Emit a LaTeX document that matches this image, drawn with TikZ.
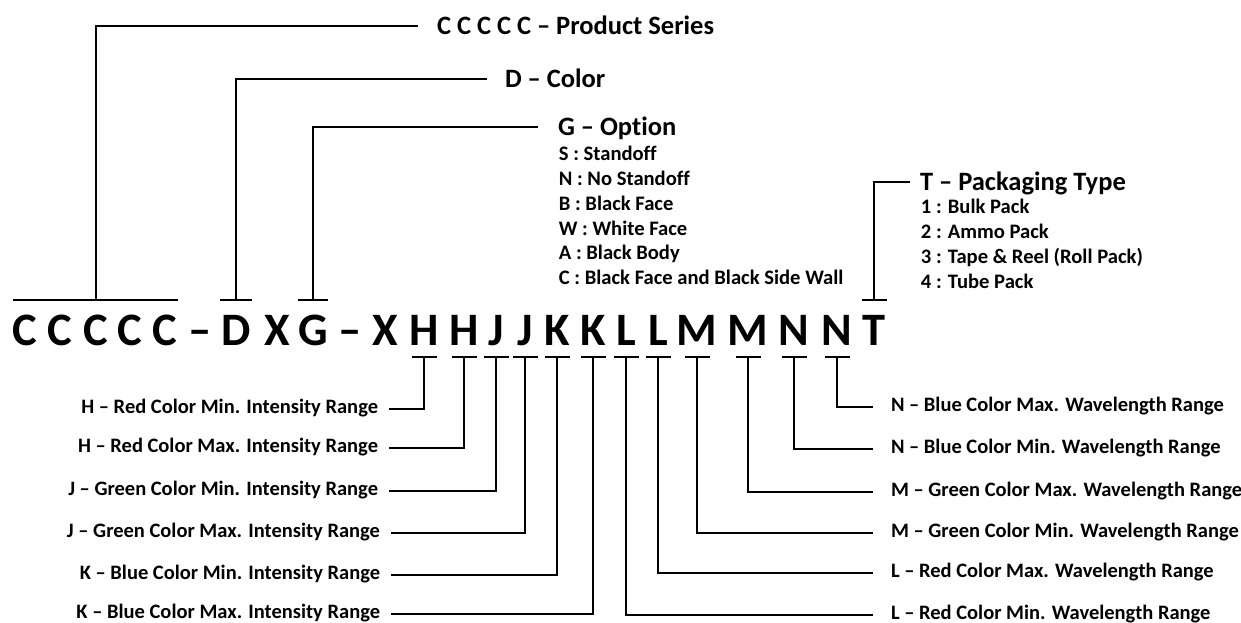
\documentclass[tikz,border=0pt]{standalone}
\usepackage{fontspec}
\setmainfont{Carlito}[Ligatures=NoCommon]
\usetikzlibrary{positioning}
\tikzset{
  code/.style={font=\fontsize{46.5}{46.5}\selectfont\bfseries, inner sep=0pt, text height=30pt, text depth=0pt},
  head/.style={font=\fontsize{26.5}{26.5}\selectfont\bfseries, inner sep=0pt, anchor=west, text height=21pt, text depth=4pt},
  item/.style={font=\fontsize{20.6}{20.6}\selectfont\bfseries, inner sep=0pt, anchor=west, text height=17.5pt, text depth=4pt},
  rangelbl/.style={font=\fontsize{20.5}{20.5}\selectfont\bfseries, inner sep=0pt, text height=14pt, text depth=4.8pt},
}
\begin{document}
\begin{tikzpicture}[x=1pt, y=-1pt, line width=1.8pt]
  \useasboundingbox (0,0) rectangle (1241,623);
  % part number, one node per character
  \foreach \ch/\px/\nm in {C/25/c1, C/60/c2, C/96/c3, C/130/c4, C/165/c5, –/200/s1, D/236/d, X/277/x1, G/313/g, –/350/s2, X/385/x2,
      H/424/h1, H/464/h2, J/496/j1, J/525/j2, K/557/k1, K/593/k2, L/626/l1, L/658/l2, M/697/m1, M/748/m2, N/794/n1, N/837/n2, T/874/t}
    \node[code] (\nm) at (\px,330) {\ch};

  % upper labels
  \node[head, outer xsep=19pt] (series) at (418,26) {C C C C C – Product Series};
  \node[head, outer xsep=18pt] (color) at (487,79) {D – Color};
  \node[head, outer xsep=20pt] (option) at (538,127) {G – Option};
  \node[head, outer xsep=10pt] (pack) at (910,182) {T – Packaging Type};
  \foreach \txt [count=\i] in {S : Standoff, N : No Standoff, B : Black Face, W : White Face, A : Black Body, C : Black Face and Black Side Wall}
    \node[item] (opt\i) at (558,{129.3+24.75*\i}) {\txt};
  \foreach \txt [count=\i] in {1 : Bulk Pack, 2 : Ammo Pack, 3 : Tape \& Reel (Roll Pack), 4 : Tube Pack}
    \node[item] (pk\i) at (920,{182+25*\i}) {\txt};

  % lower labels
  \node[rangelbl, anchor=east, outer xsep=11pt] (hmin) at (389,409) {H – Red Color Min. Intensity Range};
  \node[rangelbl, anchor=east, outer xsep=11pt] (hmax) at (389,448) {H – Red Color Max. Intensity Range};
  \node[rangelbl, anchor=east, outer xsep=11pt] (jmin) at (389,491) {J – Green Color Min. Intensity Range};
  \node[rangelbl, anchor=east, outer xsep=11pt] (jmax) at (391,533) {J – Green Color Max. Intensity Range};
  \node[rangelbl, anchor=east, outer xsep=11pt] (kmin) at (391,575) {K – Blue Color Min. Intensity Range};
  \node[rangelbl, anchor=east, outer xsep=11pt] (kmax) at (391,614) {K – Blue Color Max. Intensity Range};
  \node[rangelbl, anchor=west, outer xsep=18pt] (nmax) at (873,407) {N – Blue Color Max. Wavelength Range};
  \node[rangelbl, anchor=west, outer xsep=18pt] (nmin) at (873,449) {N – Blue Color Min. Wavelength Range};
  \node[rangelbl, anchor=west, outer xsep=18pt] (mmax) at (873,492) {M – Green Color Max. Wavelength Range};
  \node[rangelbl, anchor=west, outer xsep=18pt] (mmin) at (873,533) {M – Green Color Min. Wavelength Range};
  \node[rangelbl, anchor=west, outer xsep=18pt] (lmax) at (873,573) {L – Red Color Max. Wavelength Range};
  \node[rangelbl, anchor=west, outer xsep=18pt] (lmin) at (873,615) {L – Red Color Min. Wavelength Range};

  % connectors above
  \draw ([xshift=-12pt,yshift=14pt]c1.north) -- ([xshift=13pt,yshift=14pt]c5.north);
  \draw ([yshift=14pt]c3.north) |- (series);
  \foreach \ltr/\lbl/\w in {d/color/16, g/option/15, t/pack/12.5} {
    \draw ([xshift=-\w pt,yshift=14pt]\ltr.north) -- ([xshift=\w pt,yshift=14pt]\ltr.north);
    \draw ([yshift=14pt]\ltr.north) |- (\lbl);
  }
  % connectors below
  \foreach \ltr/\lbl in {h1/hmin, h2/hmax, j1/jmin, j2/jmax, k1/kmin, k2/kmax, l1/lmin, l2/lmax, m1/mmin, m2/mmax, n1/nmin, n2/nmax} {
    \draw ([xshift=-12.5pt,yshift=-11pt]\ltr.south) -- ([xshift=12.5pt,yshift=-11pt]\ltr.south);
    \draw ([yshift=-11pt]\ltr.south) |- (\lbl);
  }
\end{tikzpicture}
\end{document}
